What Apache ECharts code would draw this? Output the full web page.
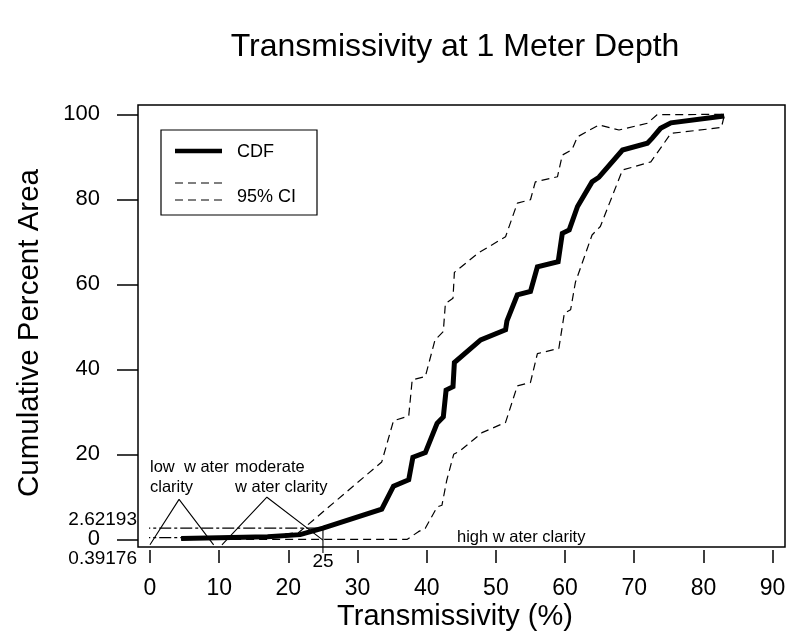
<!DOCTYPE html>
<html><head><meta charset="utf-8">
<script src="https://cdn.jsdelivr.net/npm/echarts@6/dist/echarts.min.js"></script>
<style>html,body{margin:0;padding:0;background:#fff}#c{width:788px;height:638px}</style>
</head><body><div id="c"></div>
<script>
// ---- data ----
const cdf = [[4.5,0.2],[10,0.39176],[17,0.6],[21.7,1.1],[25,2.62193],[33.5,7.1],[35.2,12.5],[37.4,14.0],[38.0,19.3],[39.8,20.4],[41.5,27.3],[42.4,28.8],[42.8,35.1],[43.8,35.9],[44.0,41.6],[47.8,46.9],[51.4,49.3],[51.6,51.4],[53.1,57.5],[55.0,58.3],[56.0,64.1],[59.0,65.3],[59.6,72.0],[60.6,72.8],[61.8,78.3],[63.9,84.1],[64.9,85.2],[68.3,91.6],[71.9,93.2],[72.6,94.4],[73.8,96.7],[75.3,98.0],[83.0,99.6]];
const upperCI = [[4.5,0.3],[17,0.7],[21.5,1.6],[33.5,18.2],[35.2,27.9],[37.4,29.0],[37.9,37.5],[39.8,38.3],[41.2,46.9],[42.4,48.9],[42.7,55.5],[43.8,56.7],[44.0,62.8],[47.5,67.4],[51.4,71.2],[53.1,79.1],[55.0,79.9],[55.7,84.1],[58.9,85.3],[59.6,90.4],[61.0,91.7],[61.8,94.7],[64.9,97.5],[67.8,96.3],[71.9,97.9],[73.3,99.9],[83.0,100.0]];
const lowerCI = [[4.5,0],[37.2,0],[38.8,1.8],[39.8,2.6],[41.5,7.6],[42.2,8.0],[42.9,13.9],[43.9,20.0],[44.8,20.8],[48,25.1],[51.4,27.5],[53.1,36.1],[55,36.9],[56,43.7],[59.1,44.9],[59.9,53.2],[60.8,54.0],[61.5,60.5],[63.9,71.6],[65.1,73.6],[68.3,86.9],[70.9,88.1],[72.4,88.8],[75.3,95.5],[82.6,96.9],[83,99.6]];
const refHigh = [[-1.7,2.62193],[25,2.62193]];
const refLow = [[-1.7,0.39176],[10,0.39176]];
const ref25 = [[25,2.62193],[25,-3.2]];
const triLow = [[0,-1.3],[4.2,9.4],[9.2,-1.3]];
const triMod = [[10.4,-1.3],[16.9,9.9],[25,-0.2]];
const xRange = [0, 90, 10];
const yRange = [0, 100, 20];
const specialLabels = ['2.62193', '0.39176', '25'];
const annoText = ['low  w ater\nclarity', 'moderate\nw ater clarity', 'high w ater clarity'];
const titleText = 'Transmissivity at 1 Meter Depth';
const xName = 'Transmissivity (%)';
const yName = 'Cumulative Percent Area';
const legendNames = ['CDF', '95% CI'];

const F = 'Liberation Sans, Arial, Helvetica, sans-serif';
const chart = echarts.init(document.getElementById('c'), null, {renderer:'canvas'});

function lineSeries(data, style, z){
  return {type:'line', data:data, xAxisIndex:0, yAxisIndex:0, symbol:'none', showSymbol:false,
    clip:false, silent:true, animation:false, z:z||2, lineStyle:style};
}
const dashCI = {color:'#000', width:1.2, type:[8,5]};
const dashRef = {color:'#000', width:1.1, type:[12,3,3,3]};
const thin = {color:'#000', width:1.1};
const hiddenX = (g) => ({gridIndex:g, type:'value', show:false, min:xRange[0], max:xRange[1]});
const hiddenY = (g) => ({gridIndex:g, type:'value', show:false, min:yRange[0], max:yRange[1]});

chart.setOption({
  backgroundColor:'#fff',
  animation:false,
  grid:[
    // 0: data area (0..90 x 0..100)
    {left:150, right:15.4, top:114.3, bottom:98.7, show:false, outerBoundsMode:'none'},
    // 1: frame box
    {left:138, right:3, top:105, bottom:91, show:true, borderColor:'#000', borderWidth:1.5, backgroundColor:'transparent', outerBoundsMode:'none'},
    // 2: x-axis ticks below the frame
    {left:150, right:15.4, top:114.3, bottom:88, show:false, outerBoundsMode:'none'},
    // 3: y-axis ticks left of the frame
    {left:138, right:15.4, top:114.3, bottom:98.7, show:false, outerBoundsMode:'none'}
  ],
  xAxis:[
    hiddenX(0),
    {gridIndex:1, type:'value', show:false, min:0, max:1},
    {gridIndex:2, type:'value', min:xRange[0], max:xRange[1], interval:xRange[2], position:'bottom',
     axisLine:{show:false}, axisTick:{show:true, length:13, lineStyle:{color:'#000', width:1.5}},
     axisLabel:{fontSize:23, color:'#000', margin:27.5, fontFamily:F}, splitLine:{show:false}},
    hiddenX(3)
  ],
  yAxis:[
    hiddenY(0),
    {gridIndex:1, type:'value', show:false, min:0, max:1},
    hiddenY(2),
    {gridIndex:3, type:'value', min:yRange[0], max:yRange[1], interval:yRange[2], position:'left',
     axisLine:{show:false}, axisTick:{show:true, length:21, lineStyle:{color:'#000', width:1.5}},
     axisLabel:{fontSize:22, color:'#000', margin:38, fontFamily:F}, splitLine:{show:false}}
  ],
  series:[
    lineSeries(refHigh, dashRef, 2),
    lineSeries(refLow, dashRef, 2),
    lineSeries(ref25, thin, 2),
    lineSeries(triLow, thin, 2),
    lineSeries(triMod, thin, 2),
    lineSeries(lowerCI, dashCI, 3),
    lineSeries(upperCI, dashCI, 3),
    lineSeries(cdf, {color:'#000', width:5, join:'miter'}, 4)
  ]
});

const p262 = chart.convertToPixel({xAxisIndex:0, yAxisIndex:0}, [0, 2.62193]);
const p039 = chart.convertToPixel({xAxisIndex:0, yAxisIndex:0}, [0, 0.39176]);
const p25 = chart.convertToPixel({xAxisIndex:0, yAxisIndex:0}, [25, 0]);

const txt = (x,y,text,size,align,valign,extra) => Object.assign({type:'text', x:x, y:y, silent:true,
  style:Object.assign({text:text, fill:'#000', font:size+'px '+F, textAlign:align, textVerticalAlign:valign}, extra||{})});

chart.setOption({
  graphic:[
    txt(455, 47, titleText, 32, 'center', 'middle'),
    txt(455, 617, xName, 29, 'center', 'middle'),
    Object.assign(txt(30, 333, yName, 29.5, 'center', 'middle'), {rotation:Math.PI/2}),
    // legend
    {type:'rect', shape:{x:161, y:130, width:156, height:85}, style:{fill:'#fff', stroke:'#000', lineWidth:1.2}, z:10},
    {type:'line', shape:{x1:175, y1:151, x2:222, y2:151}, style:{stroke:'#000', lineWidth:4.5}, z:11},
    {type:'line', shape:{x1:175, y1:183, x2:222, y2:183}, style:{stroke:'#000', lineWidth:1.2, lineDash:[8,5]}, z:11},
    {type:'line', shape:{x1:175, y1:200, x2:222, y2:200}, style:{stroke:'#000', lineWidth:1.2, lineDash:[8,5]}, z:11},
    Object.assign(txt(237, 152, legendNames[0], 18, 'left', 'middle'), {z:11}),
    Object.assign(txt(237, 197, legendNames[1], 18, 'left', 'middle'), {z:11}),
    // special axis labels
    txt(137, p262[1]-8, specialLabels[0], 19, 'right', 'middle'),
    txt(137, p039[1]+21, specialLabels[1], 19, 'right', 'middle'),
    txt(p25[0], p25[1]+22, specialLabels[2], 19, 'center', 'middle'),
    // annotations
    txt(150, 457, annoText[0], 16.5, 'left', 'top', {lineHeight:20}),
    txt(235, 457, annoText[1], 16.5, 'left', 'top', {lineHeight:20}),
    txt(457, 537, annoText[2], 16.5, 'left', 'middle')
  ]
});
</script></body></html>
